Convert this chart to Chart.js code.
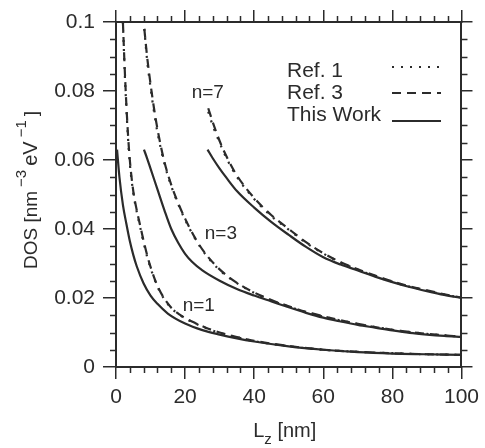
<!DOCTYPE html>
<html>
<head>
<meta charset="utf-8">
<script src="https://cdn.jsdelivr.net/npm/chart.js@4.4.1/dist/chart.umd.min.js"></script>
<style>
  html, body { margin: 0; padding: 0; background: #fff; }
  #wrap { width: 485px; height: 448px; }
</style>
</head>
<body>
<div id="wrap"><canvas id="dos-chart" width="485" height="448"></canvas></div>
<script>
// Values (L_z in nm, DOS in nm^-3 eV^-1)
const lzRef3N1 = [2.0, 2.5, 3, 3.5, 4, 5, 6, 7, 8, 9, 10, 12, 14, 16, 18, 20, 23, 26, 30, 35, 40, 50, 60, 70, 80, 90, 100];
const dosRef3N1 = [0.100, 0.087, 0.076, 0.067, 0.060, 0.051, 0.0455, 0.041, 0.0365, 0.0325, 0.029, 0.0235, 0.0198, 0.0172, 0.0155, 0.0142, 0.0127, 0.0114, 0.0100, 0.0087, 0.0076, 0.0061, 0.0050, 0.0044, 0.0040, 0.0037, 0.0035];
const lzRef1N1 = [2.0, 2.5, 3, 3.5, 4, 5, 6, 7, 8, 9, 10, 12, 14, 16, 18, 20, 23, 26, 30, 35, 40, 50, 60, 70, 80, 90, 100];
const dosRef1N1 = [0.100, 0.086, 0.075, 0.066, 0.059, 0.0505, 0.045, 0.0405, 0.036, 0.032, 0.0287, 0.0233, 0.0196, 0.0171, 0.0154, 0.0141, 0.0126, 0.0113, 0.0099, 0.0086, 0.0075, 0.0060, 0.0050, 0.0044, 0.0040, 0.0037, 0.0035];
const lzWorkN1 = [0.3, 1, 2, 3, 4, 5, 6, 8, 10, 12, 15, 20, 25, 30, 35, 40, 50, 60, 70, 80, 90, 100];
const dosWorkN1 = [0.063, 0.055, 0.047, 0.0415, 0.0365, 0.0325, 0.0292, 0.0242, 0.0207, 0.0183, 0.0155, 0.0126, 0.0107, 0.0094, 0.0083, 0.0074, 0.0060, 0.0050, 0.0043, 0.0039, 0.0037, 0.0035];

const lzRef3N3 = [8.2, 9, 10, 11, 12, 14, 16, 18, 20, 23, 26, 30, 35, 40, 45, 50, 55, 60, 70, 80, 90, 100];
const dosRef3N3 = [0.098, 0.090, 0.082, 0.075, 0.069, 0.0595, 0.0528, 0.0475, 0.0430, 0.0372, 0.0327, 0.0283, 0.0244, 0.0216, 0.0194, 0.0176, 0.0160, 0.0147, 0.0125, 0.0108, 0.0096, 0.0088];
const lzRef1N3 = [8.2, 9, 10, 11, 12, 14, 16, 18, 20, 23, 26, 30, 35, 40, 45, 50, 55, 60, 70, 80, 90, 100];
const dosRef1N3 = [0.098, 0.089, 0.081, 0.074, 0.068, 0.059, 0.0524, 0.0472, 0.0427, 0.0370, 0.0325, 0.0281, 0.0243, 0.0215, 0.0193, 0.0175, 0.0159, 0.0146, 0.0125, 0.0108, 0.0096, 0.0088];
const lzWorkN3 = [8.1, 9, 10, 12, 14, 16, 18, 20, 22, 25, 30, 35, 40, 45, 50, 55, 60, 65, 70, 75, 80, 85, 90, 95, 100];
const dosWorkN3 = [0.063, 0.0605, 0.0575, 0.0515, 0.0455, 0.0400, 0.0360, 0.0328, 0.0305, 0.0280, 0.0250, 0.0226, 0.0207, 0.0190, 0.0173, 0.0157, 0.0143, 0.0132, 0.0122, 0.0114, 0.0106, 0.0099, 0.0094, 0.0090, 0.0087];

const lzRef3N7 = [26.7, 28, 30, 32, 35, 40, 45, 50, 55, 60, 65, 70, 75, 80, 85, 90, 95, 100];
const dosRef3N7 = [0.075, 0.071, 0.0655, 0.061, 0.0555, 0.0490, 0.0440, 0.0400, 0.0362, 0.0330, 0.0304, 0.0283, 0.0265, 0.0248, 0.0234, 0.0222, 0.0211, 0.0201];
const lzRef1N7 = [26.7, 28, 30, 32, 35, 40, 45, 50, 55, 60, 65, 70, 75, 80, 85, 90, 95, 100];
const dosRef1N7 = [0.074, 0.070, 0.065, 0.0605, 0.0551, 0.0487, 0.0437, 0.0398, 0.0360, 0.0329, 0.0303, 0.0282, 0.0264, 0.0247, 0.0233, 0.0221, 0.0210, 0.0201];
const lzWorkN7 = [26.5, 28, 30, 32, 35, 40, 45, 50, 55, 60, 65, 70, 75, 80, 85, 90, 95, 100];
const dosWorkN7 = [0.063, 0.0605, 0.0575, 0.0548, 0.0510, 0.0462, 0.0420, 0.0383, 0.0348, 0.0318, 0.0297, 0.0280, 0.0262, 0.0246, 0.0232, 0.0220, 0.0209, 0.0200];

const legendNames = ['Ref. 1', 'Ref. 3', 'This Work'];
const curveNames = ['n=7', 'n=3', 'n=1'];
const xMajor = 20, xMinor = 4;
const yMajor = 0.02, yMinor = 0.005;

const ink = '#2b2b2b';
const font = "'Liberation Sans', Arial, Helvetica, sans-serif";
const dashes = { 'Ref. 1': [2, 7], 'Ref. 3': [9, 6], 'This Work': [] };

const pts = (xs, ys) => xs.map((x, i) => ({ x, y: ys[i] }));
const curve = (name, xs, ys) => ({
  label: name,
  data: pts(xs, ys),
  borderColor: ink,
  borderWidth: 2.2,
  borderDash: dashes[name],
  pointRadius: 0,
  fill: false,
  cubicInterpolationMode: 'monotone',
});

// annotation spots in data units
const curveNameSpots = [[21.9, 0.0794], [25.7, 0.0386], [19.3, 0.0177]];

const decorations = {
  id: 'decorations',
  beforeDraw(chart) {
    const { ctx, width, height } = chart;
    ctx.save();
    ctx.fillStyle = '#fff';
    ctx.fillRect(0, 0, width, height);
    ctx.restore();
  },
  afterDraw(chart) {
    const { ctx, chartArea: a, scales: { x, y } } = chart;
    ctx.save();
    ctx.strokeStyle = ink;
    ctx.lineWidth = 1.5;
    ctx.setLineDash([]);

    // minor ticks on all four sides
    ctx.beginPath();
    for (let v = xMinor; v < 100; v += xMinor) {
      if (v % xMajor === 0) continue;
      const px = Math.round(x.getPixelForValue(v)) + 0.5;
      ctx.moveTo(px, a.bottom); ctx.lineTo(px, a.bottom + 6);
      ctx.moveTo(px, a.top); ctx.lineTo(px, a.top - 6);
    }
    for (let k = 1; k < 20; k++) {
      if (k % 4 === 0) continue;
      const py = Math.round(y.getPixelForValue(k * yMinor)) + 0.5;
      ctx.moveTo(a.left, py); ctx.lineTo(a.left - 6, py);
      ctx.moveTo(a.right, py); ctx.lineTo(a.right + 6, py);
    }
    ctx.stroke();

    ctx.fillStyle = ink;

    // curve names
    ctx.font = '19px ' + font;
    ctx.textAlign = 'left';
    ctx.textBaseline = 'middle';
    curveNames.forEach((t, i) => {
      ctx.fillText(t, x.getPixelForValue(curveNameSpots[i][0]), y.getPixelForValue(curveNameSpots[i][1]));
    });

    // legend: text left, line sample right
    const rowsText = [71, 93, 115];
    const rowsLine = [67, 93, 121];
    ctx.font = '21px ' + font;
    legendNames.forEach((t, i) => {
      ctx.fillText(t, 287, rowsText[i]);
      ctx.beginPath();
      ctx.lineWidth = 2;
      ctx.setLineDash(dashes[t]);
      ctx.moveTo(392, rowsLine[i]);
      ctx.lineTo(441, rowsLine[i]);
      ctx.stroke();
    });
    ctx.setLineDash([]);

    // y title with superscripts
    const yParts = [['DOS [nm', 19, 0], ['\u22123', 15, -11], ['eV', 20, 0], ['\u22121', 15, -11], [']', 19, 0]];
    ctx.save();
    ctx.translate(37, 190);
    ctx.rotate(-Math.PI / 2);
    ctx.textBaseline = 'alphabetic';
    let total = 0;
    const widths = yParts.map(([s, f, r]) => {
      ctx.font = f + 'px ' + font;
      const w = ctx.measureText(s).width + (r ? 8 : 0);
      total += w;
      return w;
    });
    let cx = -total / 2;
    yParts.forEach(([s, f, r], i) => {
      ctx.font = f + 'px ' + font;
      ctx.fillText(s, cx + (r ? 4 : 0), r);
      cx += widths[i];
    });
    ctx.restore();

    // x title with subscript
    const xParts = [['L', 20, 0], ['z', 15, 7], [' [nm]', 20, 0]];
    ctx.textBaseline = 'alphabetic';
    let tw = 0;
    const xw = xParts.map(([s, f]) => {
      ctx.font = f + 'px ' + font;
      const w = ctx.measureText(s).width;
      tw += w;
      return w;
    });
    let lx = (a.left + a.right) / 2 - tw / 2 - 4;
    xParts.forEach(([s, f, d], i) => {
      ctx.font = f + 'px ' + font;
      ctx.fillText(s, lx, 437 + d);
      lx += xw[i];
    });

    ctx.restore();
  },
};

const gridOpts = (len) => ({
  drawOnChartArea: false,
  drawTicks: true,
  tickLength: len,
  color: ink,
  lineWidth: 1.5,
});
const borderOpts = { display: true, color: ink, width: 2 };

Chart.defaults.font.family = font;
Chart.defaults.color = ink;

new Chart(document.getElementById('dos-chart'), {
  type: 'line',
  data: {
    datasets: [
      curve('Ref. 1', lzRef1N1, dosRef1N1),
      curve('Ref. 3', lzRef3N1, dosRef3N1),
      curve('This Work', lzWorkN1, dosWorkN1),
      curve('Ref. 1', lzRef1N3, dosRef1N3),
      curve('Ref. 3', lzRef3N3, dosRef3N3),
      curve('This Work', lzWorkN3, dosWorkN3),
      curve('Ref. 1', lzRef1N7, dosRef1N7),
      curve('Ref. 3', lzRef3N7, dosRef3N7),
      curve('This Work', lzWorkN7, dosWorkN7),
    ],
  },
  options: {
    responsive: false,
    animation: false,
    layout: { padding: 0 },
    plugins: { legend: { display: false }, tooltip: { enabled: false } },
    scales: {
      x: {
        type: 'linear', position: 'bottom', min: 0, max: 100,
        ticks: { stepSize: xMajor, font: { size: 21 }, padding: 6, maxRotation: 0 },
        grid: gridOpts(12), border: borderOpts,
        afterFit: (s) => { s.height = 81; },
      },
      x2: {
        type: 'linear', position: 'top', min: 0, max: 100,
        ticks: { stepSize: xMajor, display: false },
        grid: gridOpts(12), border: borderOpts,
        afterFit: (s) => { s.height = 22; },
      },
      y: {
        type: 'linear', position: 'left', min: 0, max: 0.1,
        ticks: { stepSize: yMajor, font: { size: 21 }, padding: 8, callback: (v) => String(+v.toFixed(3)) },
        grid: gridOpts(13), border: borderOpts,
        afterFit: (s) => { s.width = 116; },
      },
      y2: {
        type: 'linear', position: 'right', min: 0, max: 0.1,
        ticks: { stepSize: yMajor, display: false },
        grid: gridOpts(11), border: borderOpts,
        afterFit: (s) => { s.width = 22; },
      },
    },
  },
  plugins: [decorations],
});
</script>
</body>
</html>
